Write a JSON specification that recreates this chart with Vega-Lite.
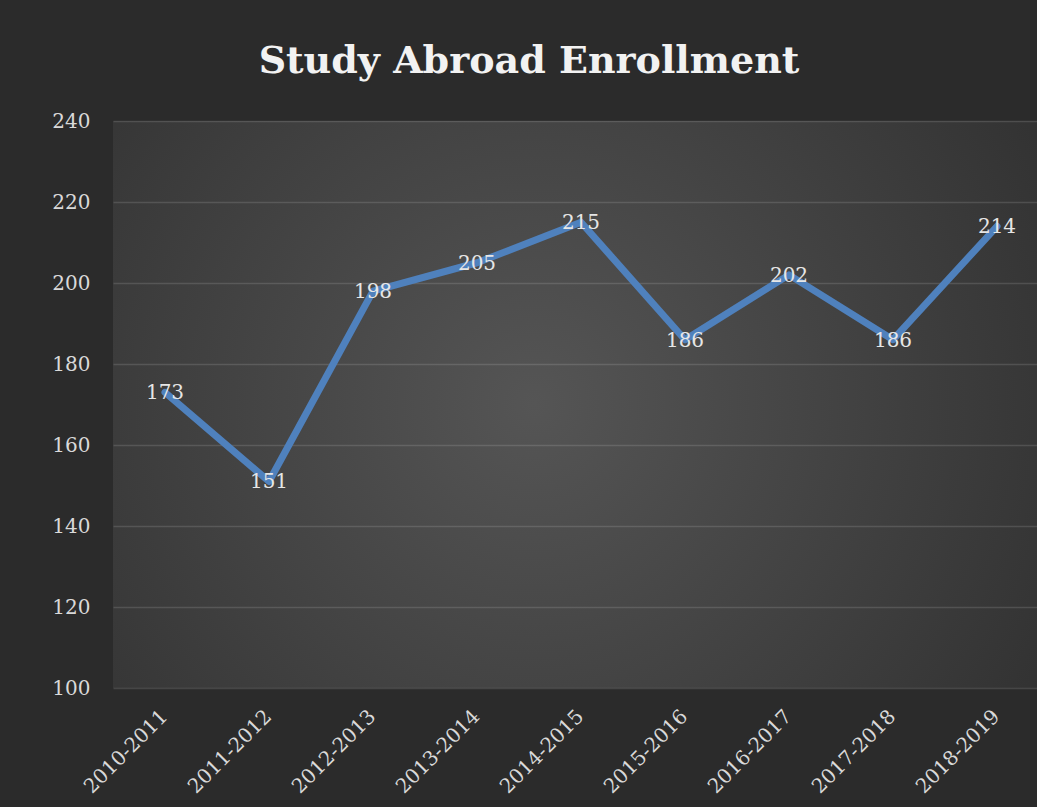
{
  "$schema": "https://vega.github.io/schema/vega-lite/v6.json",
  "autosize": {"type": "none"},
  "width": 936,
  "height": 567,
  "padding": {"left": 113, "top": 121, "right": 0, "bottom": 119},
  "background": "#2b2b2b",
  "title": {
    "text": "Study Abroad Enrollment",
    "font": "DejaVu Serif",
    "fontSize": 38,
    "fontWeight": "bold",
    "color": "#f2f2f2",
    "anchor": "middle",
    "dx": -52,
    "offset": 0,
    "baseline": "alphabetic"
  },
  "config": {
    "view": {
      "stroke": null,
      "fill": {
        "gradient": "radial",
        "x1": 0.45, "y1": 0.5, "r1": 0,
        "x2": 0.45, "y2": 0.5, "r2": 0.75,
        "stops": [
          {"offset": 0, "color": "#555555"},
          {"offset": 1, "color": "#2b2b2b"}
        ]
      }
    },
    "text": {"font": "DejaVu Serif"}
  },
  "data": {
    "values": [
      {"year": "2010-2011", "enrollment": 173},
      {"year": "2011-2012", "enrollment": 151},
      {"year": "2012-2013", "enrollment": 198},
      {"year": "2013-2014", "enrollment": 205},
      {"year": "2014-2015", "enrollment": 215},
      {"year": "2015-2016", "enrollment": 186},
      {"year": "2016-2017", "enrollment": 202},
      {"year": "2017-2018", "enrollment": 186},
      {"year": "2018-2019", "enrollment": 214}
    ]
  },
  "encoding": {
    "x": {
      "field": "year",
      "type": "ordinal",
      "sort": null,
      "scale": {"type": "point", "padding": 0.5},
      "axis": {
        "title": null,
        "labelAngle": -45,
        "labelFont": "DejaVu Serif",
        "labelFontSize": 20,
        "labelColor": "#d9d9d9",
        "labelPadding": 18,
        "labelOffset": -8,
        "ticks": false,
        "domain": false,
        "grid": false
      }
    },
    "y": {
      "field": "enrollment",
      "type": "quantitative",
      "scale": {"domain": [100, 240], "nice": false, "zero": false},
      "axis": {
        "title": null,
        "values": [100, 120, 140, 160, 180, 200, 220, 240],
        "labelFont": "DejaVu Serif",
        "labelFontSize": 20,
        "labelColor": "#d9d9d9",
        "labelPadding": 23,
        "ticks": false,
        "domain": false,
        "grid": true,
        "gridColor": "#ffffff",
        "gridOpacity": 0.13,
        "gridWidth": 1.5
      }
    }
  },
  "layer": [
    {
      "mark": {"type": "line", "color": "#4f81bd", "strokeWidth": 7, "strokeCap": "round", "strokeJoin": "round"}
    },
    {
      "mark": {"type": "text", "align": "center", "baseline": "middle", "fontSize": 20, "color": "#e6e6e6", "dy": 1},
      "encoding": {"text": {"field": "enrollment", "type": "quantitative"}}
    }
  ]
}
